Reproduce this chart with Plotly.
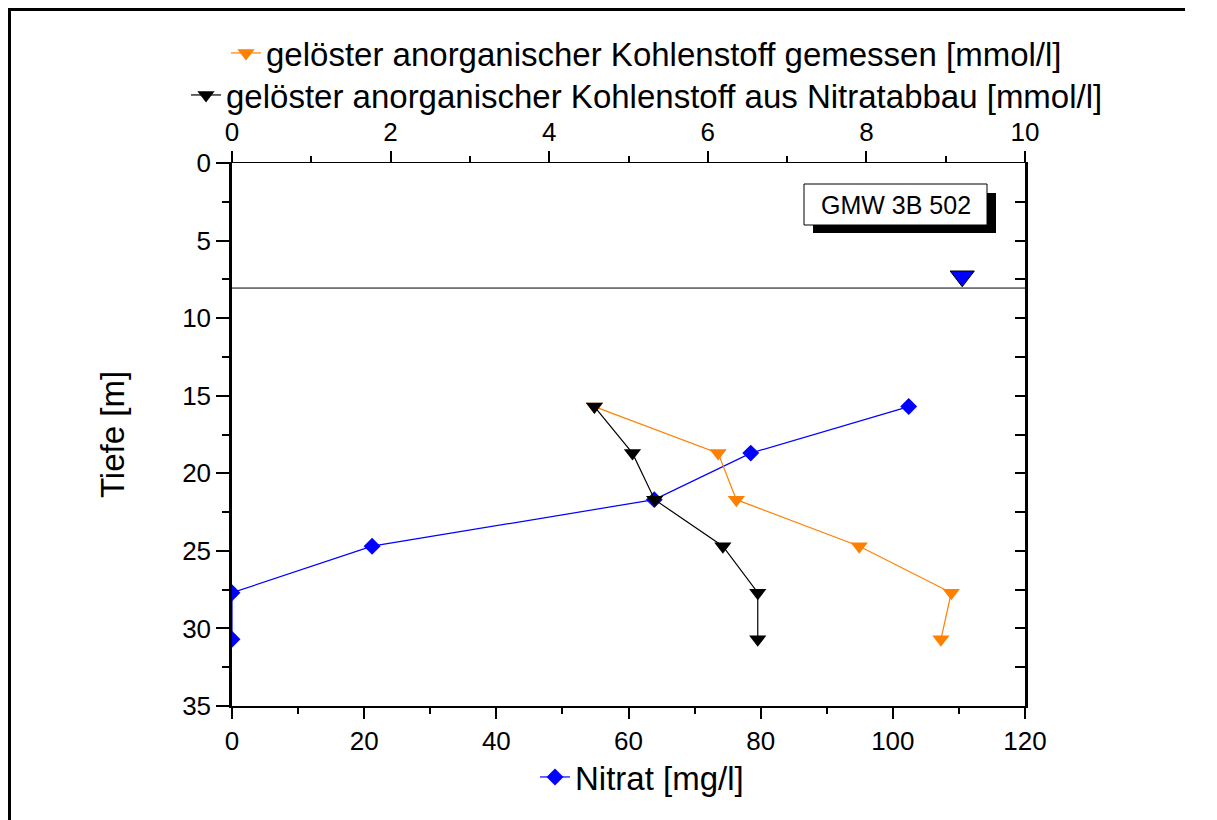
import plotly.graph_objects as go

# Sampling depths [m]
depth = [15.7, 18.7, 21.7, 24.7, 27.7, 30.7]

# Nitrate [mg/l]
nitrat = [102.4, 78.5, 63.9, 21.2, 0.0, 0.0]

# Dissolved inorganic carbon [mmol/l]
dic_gemessen = [4.57, 6.13, 6.36, 7.91, 9.07, 8.94]
dic_nitratabbau = [4.57, 5.05, 5.33, 6.19, 6.63, 6.63]

# Groundwater level
wasserspiegel_tiefe = 8.06
wasserspiegel_marker_x = [110.5]
wasserspiegel_marker_y = [7.3]

x_ticks_nitrat = [0, 20, 40, 60, 80, 100, 120]
x_ticks_dic = [0, 2, 4, 6, 8, 10]
y_ticks = [0, 5, 10, 15, 20, 25, 30, 35]

FONT = "Liberation Sans, Arial, sans-serif"
W, H = 1217, 820
L, R, T, B = 232, 1025, 163, 706  # plot area in pixels


def px_x(px):
    return (px - L) / (R - L)


def px_y(py):
    return 1 - (py - T) / (B - T)


fig = go.Figure()

fig.add_trace(go.Scatter(
    x=dic_gemessen, y=depth, xaxis="x2", yaxis="y",
    mode="lines+markers", name="gelöster anorganischer Kohlenstoff gemessen [mmol/l]",
    line=dict(color="#FF8000", width=1.2),
    marker=dict(symbol="triangle-down", size=15, color="#FF8000"),
    legend="legend",
))
fig.add_trace(go.Scatter(
    x=dic_nitratabbau, y=depth, xaxis="x2", yaxis="y",
    mode="lines+markers", name="gelöster anorganischer Kohlenstoff aus Nitratabbau [mmol/l]",
    line=dict(color="black", width=1.2),
    marker=dict(symbol="triangle-down", size=15, color="black"),
    legend="legend2",
))
fig.add_trace(go.Scatter(
    x=nitrat, y=depth, xaxis="x", yaxis="y",
    mode="lines+markers", name="Nitrat [mg/l]",
    line=dict(color="#0000FF", width=1.2),
    marker=dict(symbol="diamond", size=13, color="#0000FF"),
    legend="legend3",
))
# groundwater level symbol
fig.add_trace(go.Scatter(
    x=wasserspiegel_marker_x, y=wasserspiegel_marker_y, xaxis="x", yaxis="y",
    mode="markers", showlegend=False,
    marker=dict(symbol="triangle-down", size=21, color="#0000FF",
                line=dict(color="black", width=1)),
))
# carrier for the right-hand mirrored depth axis
fig.add_trace(go.Scatter(
    x=[None], y=[None], xaxis="x", yaxis="y2", showlegend=False, hoverinfo="skip",
))

tickfont = dict(family=FONT, size=26, color="black")

fig.update_layout(
    width=W, height=H, autosize=False,
    margin=dict(l=L, r=W - R, t=T, b=H - B, pad=0),
    paper_bgcolor="white", plot_bgcolor="white",
    font=dict(family=FONT, color="black"),
    xaxis=dict(
        range=[0, 120], tickvals=x_ticks_nitrat, showgrid=False, zeroline=False,
        showline=True, linecolor="black", linewidth=2,
        ticks="outside", ticklen=11, tickwidth=2, tickcolor="black",
        minor=dict(dtick=10, ticks="outside", ticklen=6, tickwidth=2, tickcolor="black", showgrid=False),
        tickfont=tickfont, side="bottom", anchor="y",
    ),
    xaxis2=dict(
        range=[0, 10], tickvals=x_ticks_dic, showgrid=False, zeroline=False,
        showline=True, linecolor="black", linewidth=1,
        ticks="outside", ticklen=11, tickwidth=2, tickcolor="black",
        minor=dict(dtick=1, ticks="outside", ticklen=6, tickwidth=2, tickcolor="black", showgrid=False),
        tickfont=tickfont, ticklabelstandoff=0, side="top", overlaying="x", anchor="y",
    ),
    yaxis=dict(
        range=[35, 0], tickvals=y_ticks, showgrid=False, zeroline=False,
        showline=True, linecolor="black", linewidth=2.5,
        ticks="outside", ticklen=13, tickwidth=2, tickcolor="black",
        minor=dict(dtick=2.5, ticks="outside", ticklen=7, tickwidth=2, tickcolor="black", showgrid=False),
        tickfont=tickfont,
        title=dict(text="Tiefe [m]", font=dict(family=FONT, size=33, color="black"), standoff=48),
        anchor="x",
    ),
    yaxis2=dict(
        range=[35, 0], tickvals=y_ticks, showgrid=False, zeroline=False,
        showline=True, linecolor="black", linewidth=2.5,
        ticks="inside", ticklen=10, tickwidth=2, tickcolor="black",
        minor=dict(dtick=2.5, ticks="inside", ticklen=10, tickwidth=2, tickcolor="black", showgrid=False),
        showticklabels=False, side="right", overlaying="y", anchor="x",
    ),
    legend=dict(
        x=px_x(226), y=px_y(53), xanchor="left", yanchor="middle",
        font=dict(family=FONT, size=33, color="black"), bgcolor="rgba(0,0,0,0)",
        borderwidth=0, tracegroupgap=0, itemclick=False,
    ),
    legend2=dict(
        x=px_x(186), y=px_y(95), xanchor="left", yanchor="middle",
        font=dict(family=FONT, size=33, color="black"), bgcolor="rgba(0,0,0,0)",
        borderwidth=0, itemclick=False,
    ),
    legend3=dict(
        x=px_x(535), y=px_y(777), xanchor="left", yanchor="middle",
        font=dict(family=FONT, size=33, color="black"), bgcolor="rgba(0,0,0,0)",
        borderwidth=0, itemclick=False,
    ),
    shapes=[
        # outer frame: left and top edges
        dict(type="line", xref="paper", yref="paper",
             x0=px_x(9.5), x1=px_x(9.5), y0=px_y(8), y1=px_y(H),
             line=dict(color="black", width=3)),
        dict(type="line", xref="paper", yref="paper",
             x0=px_x(8), x1=px_x(1185), y0=px_y(9.5), y1=px_y(9.5),
             line=dict(color="black", width=3)),
        # groundwater level line
        dict(type="line", xref="paper", yref="y", x0=0, x1=1,
             y0=wasserspiegel_tiefe, y1=wasserspiegel_tiefe,
             line=dict(color="black", width=1)),
        # label box shadow
        dict(type="rect", xref="paper", yref="paper",
             x0=px_x(813), x1=px_x(996), y0=px_y(233), y1=px_y(193),
             fillcolor="black", line=dict(width=0)),
        # label box
        dict(type="rect", xref="paper", yref="paper",
             x0=px_x(804), x1=px_x(987), y0=px_y(225), y1=px_y(184),
             fillcolor="white", line=dict(color="black", width=1)),
    ],
    annotations=[
        dict(text="GMW 3B 502", xref="paper", yref="paper",
             x=px_x(895.5), y=px_y(205), xanchor="center", yanchor="middle",
             showarrow=False, font=dict(family=FONT, size=25, color="black")),
    ],
)

fig.write_html("out.html")
